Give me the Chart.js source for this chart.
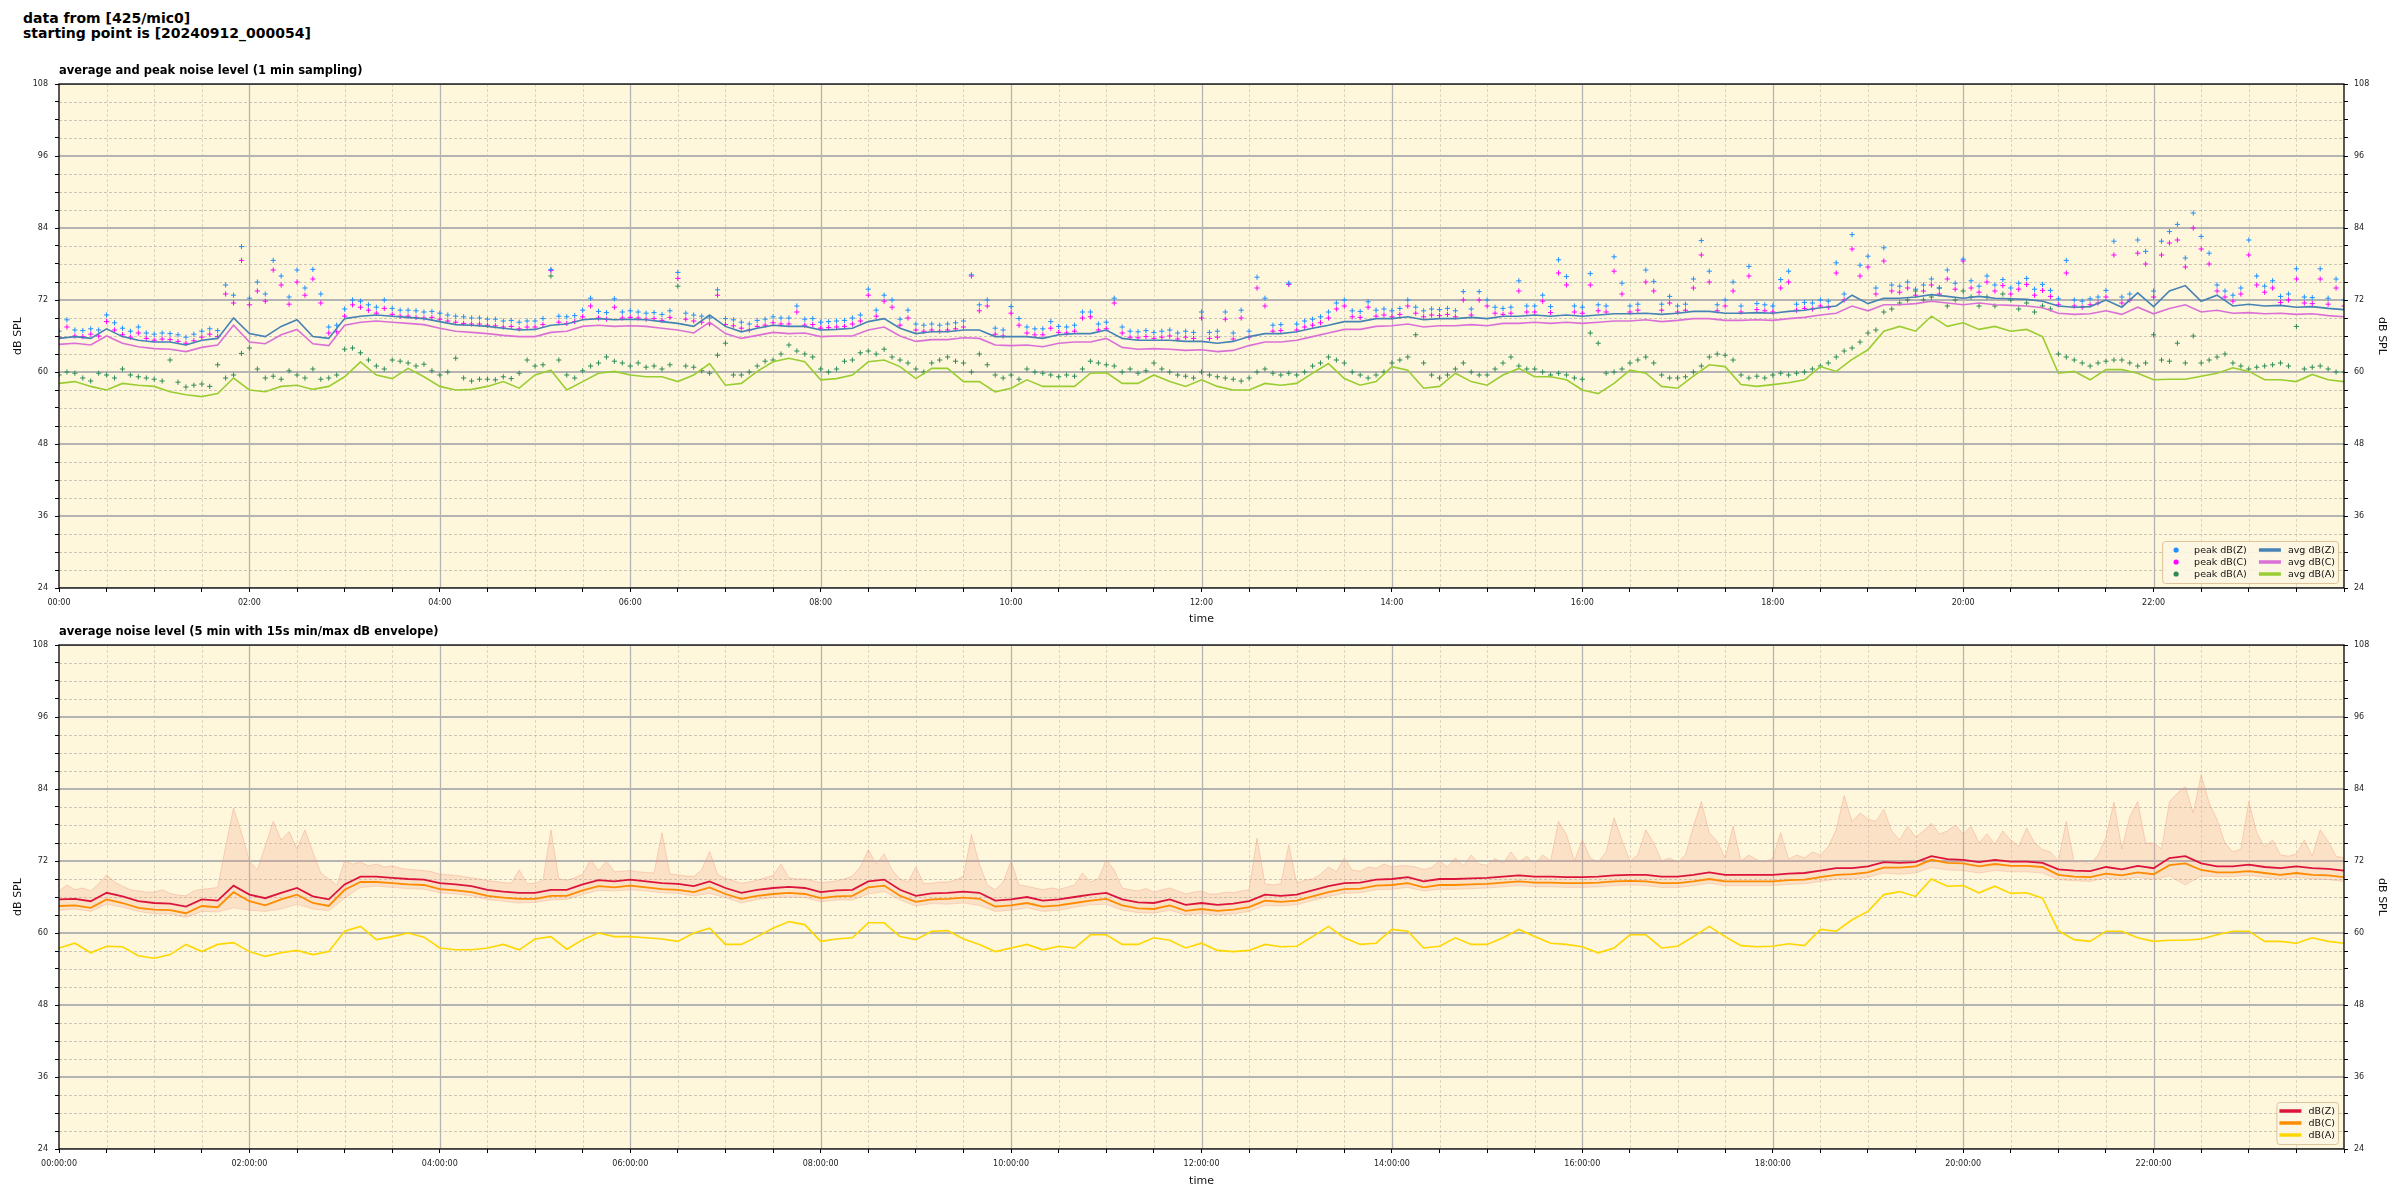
<!DOCTYPE html>
<html>
<head>
<meta charset="utf-8">
<script src="https://cdn.jsdelivr.net/npm/chart.js@4.4.1/dist/chart.umd.min.js"></script>
<style>
  html, body { margin: 0; padding: 0; background: #fff; }
  #page { position: relative; width: 2400px; height: 1200px; overflow: hidden; font-family: "DejaVu Sans", sans-serif; }
  canvas { position: absolute; left: 0; }
  .suptitle { position: absolute; left: 23px; top: 11px; font-size: 14px; line-height: 15.3px; font-weight: bold; color: #000; }
  .subtitle { position: absolute; left: 59px; font-size: 11.5px; line-height: 13px; font-weight: bold; color: #000; white-space: nowrap; }
</style>
</head>
<body>
<div id="page">
  <canvas id="peakChart" width="2400" height="570" style="top:60px"></canvas>
  <canvas id="envChart" width="2400" height="570" style="top:630px"></canvas>
  <div class="suptitle">data from [425/mic0]<br>starting point is [20240912_000054]</div>
  <div class="subtitle" style="top:64px">average and peak noise level (1 min sampling)</div>
  <div class="subtitle" style="top:625px">average noise level (5 min with 15s min/max dB envelope)</div>
</div>
<script>
// sampling steps (minutes after 00:00)
const AVG_STEP = 10;
const PEAK_STEP = 5;
const ENV_STEP = 5;

const hourLabelsTop = ['00:00', '02:00', '04:00', '06:00', '08:00', '10:00', '12:00', '14:00', '16:00', '18:00', '20:00', '22:00'];
const hourLabelsBottom = ['00:00:00', '02:00:00', '04:00:00', '06:00:00', '08:00:00', '10:00:00', '12:00:00', '14:00:00', '16:00:00', '18:00:00', '20:00:00', '22:00:00'];
const dbTicks = [24, 36, 48, 60, 72, 84, 96, 108];

// --- top panel: 1 min averages (read every 10 min) ---
const avgZ = [
  65.6, 65.9, 65.6, 67.2, 65.9, 65.3, 65.0, 65.0, 64.5, 65.3,
  65.6, 69.0, 66.4, 65.9, 67.6, 68.7, 65.9, 65.6, 68.9, 69.3,
  69.5, 69.3, 69.1, 68.9, 68.4, 67.9, 67.8, 67.6, 67.3, 67.0,
  67.1, 67.8, 68.0, 68.7, 68.9, 68.7, 68.8, 68.7, 68.4, 68.1,
  67.6, 69.5, 67.6, 66.7, 67.3, 67.8, 67.6, 67.6, 67.0, 67.1,
  67.3, 68.4, 68.9, 67.3, 66.4, 66.7, 66.7, 67.0, 67.0, 65.9,
  65.9, 65.9, 65.6, 66.2, 66.4, 66.4, 67.0, 65.6, 65.3, 65.3,
  65.3, 65.1, 65.1, 64.8, 65.1, 65.9, 66.4, 66.4, 66.7, 67.3,
  67.8, 68.4, 68.4, 68.9, 68.9, 69.2, 68.7, 68.9, 68.9, 69.1,
  68.9, 69.3, 69.3, 69.5, 69.3, 69.5, 69.3, 69.5, 69.7, 69.7,
  69.8, 69.6, 69.8, 70.1, 70.1, 69.8, 69.8, 69.9, 69.8, 70.1,
  70.3, 70.7, 71.0, 72.8, 71.4, 72.3, 72.3, 72.5, 72.9, 72.6,
  72.3, 72.6, 72.3, 72.2, 72.1, 71.8, 71.0, 70.8, 70.9, 72.0,
  70.8, 73.2, 70.9, 73.5, 74.4, 71.8, 72.8, 71.0, 71.3, 71.0,
  71.1, 70.8, 70.9, 70.6, 70.4
];
const avgC = [
  64.6, 64.8, 64.5, 66.0, 64.8, 64.2, 63.9, 63.8, 63.4, 64.1,
  64.5, 67.8, 65.0, 64.7, 66.2, 67.1, 64.7, 64.4, 67.8, 68.3,
  68.5, 68.3, 68.1, 67.9, 67.3, 66.8, 66.6, 66.4, 66.1, 65.9,
  65.9, 66.6, 66.8, 67.6, 67.8, 67.6, 67.7, 67.6, 67.3, 67.0,
  66.5, 68.3, 66.4, 65.6, 66.1, 66.6, 66.4, 66.5, 65.9, 66.0,
  66.0, 67.0, 67.5, 66.0, 65.1, 65.4, 65.4, 65.7, 65.6, 64.5,
  64.4, 64.5, 64.2, 64.8, 65.0, 65.0, 65.6, 64.1, 63.8, 63.9,
  63.8, 63.6, 63.7, 63.4, 63.6, 64.4, 65.0, 65.0, 65.3, 65.9,
  66.5, 67.1, 67.1, 67.6, 67.7, 68.0, 67.5, 67.7, 67.7, 67.9,
  67.7, 68.1, 68.1, 68.3, 68.1, 68.3, 68.1, 68.3, 68.5, 68.5,
  68.7, 68.4, 68.6, 68.9, 68.9, 68.6, 68.6, 68.7, 68.6, 68.9,
  69.1, 69.5, 69.8, 71.0, 70.2, 71.2, 71.2, 71.4, 71.8, 71.5,
  71.2, 71.5, 71.2, 71.1, 71.0, 70.7, 69.8, 69.6, 69.7, 70.2,
  69.6, 70.8, 69.7, 70.6, 71.2, 70.0, 70.3, 69.8, 69.9, 69.7,
  69.8, 69.6, 69.7, 69.4, 69.2
];
const avgA = [
  58.1, 58.4, 57.6, 57.0, 58.1, 57.8, 57.6, 56.7, 56.2, 55.9,
  56.4, 59.0, 57.0, 56.7, 57.6, 57.8, 57.1, 57.6, 59.2, 61.7,
  59.5, 58.9, 60.6, 59.2, 57.6, 57.0, 57.1, 57.6, 58.4, 57.3,
  59.5, 60.3, 57.0, 58.4, 59.8, 60.1, 59.5, 59.2, 59.2, 58.4,
  59.5, 61.4, 57.8, 58.1, 60.1, 61.7, 62.3, 61.7, 58.7, 58.9,
  59.5, 61.7, 62.0, 60.9, 58.9, 60.6, 60.6, 58.4, 58.4, 56.7,
  57.3, 58.7, 57.6, 57.6, 57.6, 59.8, 59.9, 58.1, 58.1, 59.5,
  58.4, 57.6, 58.7, 57.6, 57.0, 57.0, 58.1, 57.8, 58.1, 59.8,
  61.4, 58.9, 57.8, 58.4, 60.9, 60.3, 57.3, 57.6, 59.8, 58.4,
  57.8, 59.5, 60.6, 59.2, 59.2, 58.7, 57.0, 56.4, 58.1, 60.3,
  59.8, 57.6, 57.3, 59.3, 61.2, 60.9, 57.9, 57.6, 57.9, 58.2,
  58.7, 60.9, 60.1, 62.1, 63.7, 66.8, 67.6, 66.8, 69.3, 67.6,
  68.2, 67.1, 67.6, 66.8, 67.1, 65.9, 59.8, 60.1, 58.7, 60.4,
  60.4, 59.8, 58.7, 58.8, 58.8, 59.3, 59.8, 60.7, 60.1, 58.7,
  58.7, 58.4, 59.6, 58.7, 58.4
];

// --- top panel: peaks (read every 5 min, one row per hour) ---
const peakZ = [
  66.8, 68.7, 67.0, 66.9, 67.2, 67.0, 69.5, 68.2, 67.3, 66.8, 67.5, 66.5,
  66.3, 66.5, 66.4, 66.2, 65.8, 66.3, 66.8, 67.2, 66.9, 74.5, 72.8, 80.9,
  72.3, 75.0, 73.0, 78.6, 76.0, 72.5, 77.0, 74.0, 77.1, 73.0, 67.5, 67.8,
  70.5, 72.0, 71.8, 71.2, 70.8, 72.0, 70.6, 70.3, 70.3, 70.2, 70.0, 70.1,
  69.8, 69.5, 69.3, 69.2, 69.0, 69.0, 68.8, 68.8, 68.5, 68.6, 68.3, 68.5,
  68.5, 68.9, 77.1, 69.3, 69.2, 69.4, 70.3, 72.3, 70.1, 69.9, 72.2, 70.0,
  70.2, 70.0, 69.8, 69.9, 69.6, 70.2, 76.6, 69.8, 69.5, 69.3, 69.0, 73.7,
  68.9, 68.7, 68.3, 68.0, 68.6, 68.8, 69.2, 69.0, 69.0, 71.0, 68.8, 68.9,
  68.3, 68.4, 68.5, 68.6, 69.0, 69.5, 73.8, 70.3, 72.8, 72.0, 68.8, 70.3,
  68.0, 67.8, 68.0, 67.8, 68.0, 68.2, 68.5, 76.2, 71.2, 72.0, 67.3, 67.0,
  70.9, 68.9, 67.5, 67.2, 67.2, 68.4, 67.6, 67.5, 67.8, 70.0, 70.0, 68.0,
  68.3, 72.3, 67.5, 66.8, 66.7, 66.9, 66.6, 66.8, 67.0, 66.5, 66.8, 66.6,
  70.0, 66.6, 66.8, 70.0, 66.5, 70.3, 66.8, 75.8, 72.3, 67.8, 67.9, 74.8,
  68.0, 68.5, 68.8, 69.2, 70.0, 71.5, 72.0, 70.2, 70.1, 71.7, 70.3, 70.5,
  70.2, 70.6, 72.0, 70.8, 70.2, 70.5, 70.4, 70.6, 70.2, 73.4, 70.5, 73.4,
  72.0, 70.8, 70.6, 70.8, 75.2, 71.0, 71.0, 72.8, 70.9, 78.7, 75.9, 71.0,
  70.8, 76.4, 71.2, 71.0, 79.2, 74.8, 71.0, 71.3, 77.0, 75.1, 71.3, 72.6,
  71.0, 71.3, 75.5, 81.9, 76.8, 71.2, 72.0, 75.0, 71.0, 77.6, 71.4, 71.2,
  71.0, 75.4, 76.8, 71.3, 71.6, 71.5, 72.0, 71.8, 78.2, 73.0, 82.9, 77.8,
  79.3, 74.0, 80.7, 74.5, 74.3, 75.0, 73.8, 74.5, 75.5, 74.0, 77.0, 74.8,
  78.8, 75.2, 74.3, 76.0, 74.5, 75.4, 74.0, 74.8, 75.6, 73.8, 74.6, 73.6,
  72.2, 78.6, 72.0, 71.8, 72.2, 72.5, 73.6, 81.8, 72.5, 73.0, 82.0, 80.1,
  73.5, 81.8, 83.4, 84.6, 79.0, 86.5, 82.6, 79.8, 74.5, 73.5, 72.8, 74.0,
  82.0, 76.0, 74.3, 75.2, 72.6, 73.0, 77.2, 72.5, 72.4, 77.2, 72.3, 75.5,
  72.0
];
const peakC = [
  65.8, 67.5, 66.0, 65.9, 66.3, 66.0, 68.4, 67.0, 66.2, 65.8, 66.5, 65.6,
  65.3, 65.5, 65.4, 65.1, 64.8, 65.2, 65.8, 66.3, 65.9, 73.0, 71.5, 78.6,
  71.2, 73.5, 71.8, 77.0, 74.5, 71.3, 75.0, 72.8, 75.5, 71.5, 66.5, 66.7,
  69.3, 71.2, 70.8, 70.3, 69.8, 70.6, 69.6, 69.3, 69.3, 69.1, 69.0, 69.1,
  68.8, 68.5, 68.3, 68.1, 68.0, 68.0, 67.8, 67.7, 67.5, 67.6, 67.2, 67.5,
  67.5, 67.9, 76.9, 68.3, 68.1, 68.4, 69.2, 71.0, 69.0, 68.8, 70.8, 69.0,
  69.1, 69.0, 68.8, 68.9, 68.6, 69.1, 75.6, 68.8, 68.5, 68.3, 68.0, 72.8,
  67.9, 67.7, 67.3, 67.0, 67.6, 67.8, 68.2, 68.0, 68.0, 70.0, 67.8, 67.9,
  67.3, 67.4, 67.5, 67.6, 68.0, 68.5, 72.8, 69.3, 71.8, 70.8, 67.8, 69.0,
  67.0, 66.8, 67.0, 66.8, 67.0, 67.2, 67.5, 76.0, 70.2, 71.0, 66.3, 66.0,
  69.8, 67.8, 66.5, 66.2, 66.2, 67.3, 66.6, 66.5, 66.8, 69.0, 69.2, 67.0,
  67.2, 71.5, 66.5, 65.8, 65.7, 65.9, 65.6, 65.8, 66.0, 65.5, 65.8, 65.6,
  69.0, 65.6, 65.8, 68.8, 65.5, 69.0, 65.8, 74.0, 71.0, 66.8, 66.9, 74.6,
  67.0, 67.5, 67.8, 68.2, 69.0, 70.5, 71.0, 69.2, 69.1, 70.8, 69.3, 69.5,
  69.2, 69.6, 71.0, 69.8, 69.2, 69.5, 69.4, 69.6, 69.2, 72.0, 69.5, 72.0,
  71.0, 69.8, 69.6, 69.8, 73.5, 70.0, 70.0, 71.8, 69.9, 76.5, 74.5, 70.0,
  69.8, 74.5, 70.2, 70.0, 76.8, 73.0, 70.0, 70.3, 75.0, 73.5, 70.3, 71.5,
  70.0, 70.3, 74.0, 79.5, 75.0, 70.2, 71.0, 73.5, 70.0, 76.0, 70.4, 70.2,
  70.0, 74.0, 75.0, 70.3, 70.6, 70.5, 71.0, 70.8, 76.5, 72.0, 80.5, 76.0,
  77.5, 73.0, 78.5, 73.5, 73.3, 74.0, 72.8, 73.5, 74.5, 73.0, 75.5, 73.8,
  78.5, 74.0, 73.3, 75.0, 73.5, 74.4, 73.0, 73.8, 74.6, 72.8, 73.6, 72.6,
  71.2, 76.5, 71.0, 70.8, 71.2, 71.5, 72.5, 79.5, 71.5, 72.0, 79.8, 78.0,
  72.5, 79.5, 81.5, 82.0, 77.5, 84.0, 80.5, 78.0, 73.5, 72.5, 71.8, 73.0,
  79.5, 74.5, 73.3, 74.0, 71.6, 72.0, 75.5, 71.5, 71.4, 75.5, 71.3, 74.0,
  71.0
];
const peakA = [
  59.5, 60.0, 59.8, 59.0, 58.5, 59.8, 59.5, 59.0, 60.5, 59.5, 59.2, 59.0,
  58.8, 58.5, 62.0, 58.3, 57.5, 57.8, 58.0, 57.6, 61.2, 59.0, 59.5, 63.1,
  64.0, 60.5, 59.0, 59.3, 58.8, 60.2, 59.5, 59.0, 60.5, 58.8, 59.0, 59.5,
  63.8, 64.0, 63.2, 62.0, 61.0, 60.5, 62.0, 61.8, 61.5, 61.0, 61.3, 60.2,
  59.5, 60.0, 62.3, 59.0, 58.5, 58.8, 58.8, 58.7, 59.2, 58.9, 59.8, 62.0,
  61.0, 61.2, 76.0, 62.0, 59.5, 59.0, 60.2, 61.0, 61.5, 62.5, 61.8, 61.5,
  61.0, 61.5, 60.8, 61.0, 60.5, 61.2, 74.3, 61.0, 60.8, 60.2, 59.8, 62.8,
  64.8, 59.5, 59.5, 60.0, 61.0, 61.8, 62.0, 63.0, 64.5, 63.5, 63.0, 62.5,
  60.5, 60.0, 60.5, 61.8, 62.0, 63.2, 63.5, 63.0, 63.8, 62.5, 62.0, 61.5,
  60.5, 60.0, 61.5, 62.0, 62.5, 61.8, 61.5, 60.0, 63.0, 61.2, 59.5, 59.0,
  59.5, 58.8, 60.5, 60.0, 59.8, 59.5, 59.2, 59.5, 59.3, 60.5, 61.8, 61.5,
  61.2, 61.0, 60.0, 60.5, 59.8, 60.2, 61.5, 60.5, 60.0, 59.5, 59.3, 59.0,
  60.0, 59.5, 59.2, 59.0, 58.8, 58.5, 59.0, 60.0, 60.5, 59.8, 59.5, 59.8,
  59.5, 60.0, 61.0, 61.5, 62.5, 62.0, 61.5, 60.0, 59.5, 59.0, 59.5, 60.0,
  61.5, 62.0, 62.5, 66.2, 61.5, 59.5, 59.0, 59.5, 60.5, 61.5, 60.0, 59.5,
  59.5, 60.5, 61.5, 62.5, 61.0, 60.5, 60.5, 60.0, 59.5, 59.8, 59.5, 59.0,
  58.8, 66.5, 64.8, 59.8, 60.0, 60.5, 61.5, 62.0, 62.5, 61.5, 59.5, 59.0,
  59.0, 59.2, 60.0, 61.0, 62.5, 63.0, 62.8, 62.0, 59.5, 59.0, 59.3, 59.0,
  59.5, 59.8, 59.5, 59.8, 60.0, 60.5, 61.0, 61.5, 62.5, 63.5, 64.0, 65.0,
  66.5, 67.0, 70.0, 70.5, 71.5, 72.0, 73.5, 72.0, 72.5, 74.0, 71.0, 72.0,
  73.5, 72.5, 71.0, 72.5, 71.0, 73.0, 72.0, 70.5, 71.5, 70.0, 71.0, 70.5,
  63.0, 62.5, 62.0, 61.5, 61.0, 61.5, 61.8, 62.0, 62.0, 61.5, 61.0, 61.5,
  66.2, 62.0, 61.8, 64.8, 61.5, 66.0, 61.5, 62.0, 62.5, 63.0, 61.5, 61.0,
  60.5, 60.8, 61.0, 61.2, 61.5, 61.0, 67.6, 60.5, 60.8, 61.0, 60.5, 60.0,
  60.0
];

// --- bottom panel: 5 min averages (read every 10 min) ---
const fiveZ = [
  65.6, 65.7, 65.3, 66.7, 66.1, 65.3, 65.0, 64.9, 64.4, 65.6,
  65.4, 67.9, 66.4, 65.8, 66.7, 67.5, 66.1, 65.6, 68.1, 69.4,
  69.4, 69.2, 69.0, 68.9, 68.3, 68.1, 67.8, 67.2, 66.9, 66.7,
  66.7, 67.2, 67.2, 68.1, 68.8, 68.6, 68.9, 68.6, 68.3, 68.2,
  67.8, 68.6, 67.5, 66.7, 67.2, 67.5, 67.7, 67.5, 66.8, 67.1,
  67.2, 68.6, 68.9, 67.2, 66.2, 66.6, 66.7, 66.9, 66.7, 65.4,
  65.6, 66.0, 65.4, 65.6, 66.0, 66.4, 66.7, 65.6, 65.1, 65.0,
  65.6, 64.7, 65.0, 64.7, 64.9, 65.3, 66.4, 66.2, 66.4, 67.1,
  67.8, 68.3, 68.4, 68.9, 69.0, 69.3, 68.6, 69.0, 69.0, 69.1,
  69.2, 69.4, 69.6, 69.4, 69.4, 69.3, 69.3, 69.4, 69.6, 69.7,
  69.7, 69.4, 69.4, 69.7, 70.1, 69.7, 69.7, 69.7, 69.7, 69.9,
  70.0, 70.4, 70.8, 70.8, 71.1, 71.8, 71.7, 71.8, 72.8, 72.3,
  72.2, 71.8, 72.2, 71.9, 71.9, 71.7, 70.6, 70.4, 70.3, 71.0,
  70.6, 71.2, 70.8, 72.5, 72.8, 71.6, 71.1, 71.1, 71.4, 71.0,
  70.8, 71.1, 70.8, 70.7, 70.4
];
const fiveC = [
  64.5, 64.6, 64.2, 65.6, 65.0, 64.2, 63.9, 63.8, 63.3, 64.5,
  64.3, 66.8, 65.3, 64.6, 65.6, 66.4, 65.0, 64.5, 67.2, 68.5,
  68.5, 68.3, 68.1, 68.0, 67.3, 67.1, 66.8, 66.2, 65.9, 65.7,
  65.7, 66.2, 66.2, 67.1, 67.8, 67.6, 67.9, 67.6, 67.3, 67.2,
  66.8, 67.6, 66.5, 65.7, 66.2, 66.5, 66.7, 66.5, 65.8, 66.1,
  66.2, 67.6, 67.9, 66.2, 65.2, 65.6, 65.7, 65.9, 65.7, 64.4,
  64.6, 65.0, 64.4, 64.6, 65.0, 65.4, 65.7, 64.6, 64.1, 64.0,
  64.6, 63.7, 64.0, 63.7, 63.9, 64.3, 65.4, 65.2, 65.4, 66.1,
  66.8, 67.3, 67.4, 67.9, 68.0, 68.3, 67.6, 68.0, 68.0, 68.1,
  68.2, 68.4, 68.6, 68.4, 68.4, 68.3, 68.3, 68.4, 68.6, 68.7,
  68.6, 68.3, 68.3, 68.6, 69.0, 68.6, 68.6, 68.6, 68.6, 68.8,
  68.9, 69.3, 69.7, 69.8, 70.1, 70.9, 70.9, 71.1, 72.2, 71.7,
  71.6, 71.1, 71.5, 71.2, 71.2, 71.0, 69.7, 69.4, 69.3, 69.9,
  69.6, 70.1, 69.8, 71.3, 71.6, 70.5, 70.1, 70.1, 70.3, 70.0,
  69.7, 70.0, 69.7, 69.6, 69.3
];
const fiveA = [
  57.5, 58.3, 56.7, 57.8, 57.7, 56.2, 55.8, 56.4, 58.1, 56.9,
  58.1, 58.4, 56.9, 56.1, 56.7, 57.1, 56.4, 56.9, 60.3, 61.1,
  58.9, 59.4, 60.0, 59.3, 57.5, 57.2, 57.2, 57.5, 58.1, 57.2,
  59.0, 59.4, 57.3, 58.9, 60.0, 59.4, 59.4, 59.2, 59.0, 58.6,
  60.0, 60.8, 58.1, 58.1, 59.4, 60.8, 61.9, 61.4, 58.6, 59.0,
  59.2, 61.7, 61.7, 59.4, 58.9, 60.3, 60.4, 59.0, 58.1, 56.9,
  57.5, 58.1, 57.2, 57.8, 57.5, 59.7, 59.7, 58.1, 58.1, 59.2,
  58.8, 57.5, 58.3, 57.1, 56.9, 57.1, 58.1, 57.7, 57.8, 59.4,
  61.1, 59.2, 58.1, 58.3, 60.6, 60.3, 57.5, 57.8, 59.2, 58.1,
  58.1, 59.2, 60.6, 59.4, 58.3, 58.1, 57.7, 56.7, 57.5, 59.7,
  59.7, 57.5, 57.8, 59.4, 61.1, 59.4, 57.9, 57.7, 57.8, 58.2,
  57.9, 60.6, 60.3, 62.2, 63.6, 66.4, 66.9, 66.1, 69.0, 67.8,
  67.9, 66.7, 67.8, 66.6, 66.7, 65.8, 60.4, 58.9, 58.6, 60.3,
  60.3, 59.2, 58.6, 58.8, 58.8, 59.0, 59.7, 60.3, 60.3, 58.6,
  58.6, 58.3, 59.2, 58.6, 58.3
];

// --- bottom panel: 15 s min/max envelope ---
const envMax = [
  67.0, 68.0, 67.2, 67.5, 67.0, 68.2, 69.7, 68.5, 67.8, 67.2, 67.0, 66.8,
  66.8, 67.2, 66.6, 66.3, 66.2, 67.0, 67.3, 67.4, 67.6, 74.4, 80.8, 76.7,
  72.0, 70.5, 74.5, 78.6, 75.5, 76.9, 74.0, 77.2, 73.5, 70.0, 69.0, 68.0,
  72.0, 71.5, 71.8, 71.2, 71.5, 71.0, 71.2, 70.8, 70.6, 70.5, 70.4, 70.2,
  69.8, 69.7, 69.6, 69.4, 69.2, 69.0, 68.7, 68.6, 68.4, 68.3, 70.5, 68.2,
  68.3, 68.8, 77.2, 69.0, 68.8, 69.2, 69.8, 72.2, 70.4, 72.0, 70.2, 70.3,
  70.4, 70.2, 70.1, 70.0, 76.7, 69.8, 69.7, 69.5, 69.4, 70.5, 73.6, 69.8,
  69.1, 68.7, 68.3, 68.5, 68.8, 69.2, 69.6, 71.5, 69.2, 69.0, 69.0, 68.7,
  68.4, 68.5, 68.7, 69.0, 69.5, 71.0, 73.9, 71.5, 73.2, 70.5, 69.0, 68.5,
  71.0, 68.2, 68.3, 68.5, 68.5, 68.8, 69.5, 76.4, 71.5, 68.0, 67.2, 68.5,
  72.0, 68.0, 67.8, 67.5, 67.2, 67.5, 67.3, 67.6, 68.0, 70.0, 68.5, 69.0,
  72.2, 70.5, 67.5, 67.2, 67.0, 67.4, 66.8, 67.2, 67.5, 67.0, 66.5, 66.8,
  67.0, 66.5, 66.5, 66.8, 66.7, 67.0, 67.2, 75.8, 68.2, 68.0, 68.2, 74.7,
  68.3, 68.8, 69.0, 69.8, 71.0, 70.2, 72.5, 70.5, 70.3, 71.0, 70.8, 71.5,
  71.0, 71.2, 71.2, 71.0, 70.6, 70.9, 72.0, 71.0, 72.5, 71.2, 73.0, 71.5,
  71.3, 72.4, 71.6, 73.5, 71.8, 72.8, 71.5, 73.0, 72.0, 78.6, 76.4, 72.0,
  75.5, 72.5, 71.8, 73.5, 79.2, 75.5, 72.0, 73.0, 77.2, 75.0, 72.0, 72.5,
  71.8, 73.0, 77.8, 81.9, 76.7, 75.3, 72.5, 77.8, 72.0, 73.0, 72.2, 71.8,
  72.5, 76.7, 72.3, 73.0, 72.5, 73.5, 73.0, 74.4, 77.2, 82.9, 78.6, 80.0,
  79.0, 78.6, 80.6, 77.0, 75.5, 77.8, 76.0, 77.0, 78.3, 76.5, 77.0, 78.0,
  76.5, 77.8, 75.0, 76.5, 74.8, 77.0, 75.5, 74.4, 77.5, 75.0, 73.9, 73.5,
  72.0, 78.6, 71.8, 72.0, 71.5, 73.0, 76.0, 81.8, 74.0, 79.4, 81.9, 75.0,
  75.0, 74.0, 81.9, 83.3, 84.4, 80.0, 86.4, 81.7, 78.9, 75.0, 73.5, 74.0,
  81.9, 76.7, 74.4, 75.5, 73.0, 72.8, 73.2, 75.5, 72.8, 77.2, 75.3, 72.8,
  72.5
];
// lower edge, read every 10 min
const envMin = [
  63.8, 64.0, 63.6, 64.8, 64.3, 63.6, 63.2, 63.2, 62.6, 63.6,
  63.5, 64.2, 63.8, 63.6, 64.0, 64.8, 64.0, 63.7, 65.8, 67.6,
  67.8, 67.6, 67.4, 67.3, 66.7, 66.5, 66.2, 65.6, 65.3, 65.0,
  65.1, 65.5, 65.6, 66.4, 67.1, 67.0, 67.2, 67.0, 66.7, 66.6,
  66.2, 66.6, 65.9, 65.0, 65.6, 65.9, 66.0, 65.9, 65.2, 65.5,
  65.5, 66.5, 66.9, 65.5, 64.5, 64.9, 64.8, 65.0, 64.6, 63.6,
  63.8, 64.2, 63.6, 63.8, 64.3, 64.7, 64.8, 63.8, 63.4, 63.3,
  63.8, 63.0, 63.3, 63.0, 63.2, 63.6, 64.6, 64.5, 64.7, 65.4,
  66.1, 66.6, 66.7, 67.2, 67.3, 67.6, 67.0, 67.3, 67.3, 67.4,
  67.5, 67.7, 67.9, 67.7, 67.7, 67.6, 67.6, 67.7, 67.9, 68.0,
  67.9, 67.6, 67.6, 67.9, 68.3, 67.9, 67.9, 67.9, 67.9, 68.1,
  68.2, 68.6, 69.0, 69.0, 69.3, 70.0, 69.8, 70.0, 70.9, 70.5,
  70.4, 70.0, 70.4, 70.2, 70.2, 70.0, 68.9, 68.7, 68.6, 69.2,
  68.9, 69.3, 68.9, 69.5, 68.0, 69.5, 69.4, 69.4, 69.6, 69.3,
  69.0, 69.3, 69.0, 68.9, 68.6
];

const colors = {
  face: '#fef7dc',
  peakZ: '#1e90ff',
  peakC: '#ff00ff',
  peakA: '#2e8b57',
  avgZ: '#4682b4',
  avgC: '#da70d6',
  avgA: '#9acd32',
  dbZ: '#dc143c',
  dbC: '#ff8c00',
  dbA: '#ffd700',
  envFill: 'rgba(240, 150, 125, 0.22)',
  envLine: 'rgba(240, 150, 125, 0.38)',
  majorGrid: '#b4b4b4',
  minorGridH: 'rgba(140, 140, 140, 0.5)',
  minorGridV: 'rgba(170, 165, 150, 0.45)'
};
const FONT = '"DejaVu Sans", sans-serif';
Chart.defaults.font.family = FONT;

const toPoints = (vals, step) => vals.map((v, i) => ({ x: i * step, y: v }));

// background, grid and frame drawn behind / around the datasets
const frameGrid = {
  id: 'frameGrid',
  beforeDraw(chart) {
    const { ctx, chartArea: a } = chart;
    ctx.save();
    ctx.fillStyle = colors.face;
    ctx.fillRect(a.left, a.top, a.width, a.height);
    ctx.restore();
  },
  beforeDatasetsDraw(chart) {
    const { ctx, chartArea: a, scales: { x, y } } = chart;
    ctx.save();
    ctx.beginPath();
    ctx.rect(a.left, a.top, a.width, a.height);
    ctx.clip();
    // minor grid
    ctx.lineWidth = 0.9;
    ctx.setLineDash([3, 2]);
    ctx.strokeStyle = colors.minorGridV;
    for (let t = 30; t < 1440; t += 30) {
      if (t % 120 === 0) continue;
      const px = Math.round(x.getPixelForValue(t)) + 0.5;
      ctx.beginPath(); ctx.moveTo(px, a.top); ctx.lineTo(px, a.bottom); ctx.stroke();
    }
    ctx.strokeStyle = colors.minorGridH;
    for (let v = 27; v < 108; v += 3) {
      if (dbTicks.includes(v)) continue;
      const py = Math.round(y.getPixelForValue(v)) + 0.5;
      ctx.beginPath(); ctx.moveTo(a.left, py); ctx.lineTo(a.right, py); ctx.stroke();
    }
    // major grid
    ctx.setLineDash([]);
    ctx.strokeStyle = colors.majorGrid;
    ctx.lineWidth = 1.3;
    hourLabelsTop.forEach((_, i) => {
      if (i === 0) return;
      const px = Math.round(x.getPixelForValue(i * 120)) + 0.5;
      ctx.beginPath(); ctx.moveTo(px, a.top); ctx.lineTo(px, a.bottom); ctx.stroke();
    });
    ctx.lineWidth = 2;
    dbTicks.forEach(v => {
      const py = Math.round(y.getPixelForValue(v));
      ctx.beginPath(); ctx.moveTo(a.left, py); ctx.lineTo(a.right, py); ctx.stroke();
    });
    ctx.restore();
  },
  afterDatasetsDraw(chart) {
    const { ctx, chartArea: a } = chart;
    ctx.save();
    ctx.strokeStyle = '#000';
    ctx.lineWidth = 1.3;
    ctx.strokeRect(a.left, a.top, a.width, a.height);
    ctx.restore();
  }
};

// legend box placed inside the lower right corner of the plot
const makeLegend = (columns) => ({
  id: 'insideLegend',
  afterDraw(chart) {
    const { ctx, chartArea: a } = chart;
    const handleW = 22, gap = 7, padX = 3, padY = 3, colGap = 12, rowH = 12;
    ctx.save();
    ctx.font = `9.5px ${FONT}`;
    const colW = columns.map(c => handleW + gap + Math.max(...c.map(it => ctx.measureText(it.label).width)));
    const w = padX * 2 + colW.reduce((s, v) => s + v, 0) + colGap * (columns.length - 1);
    const h = padY * 2 + rowH * Math.max(...columns.map(c => c.length));
    const x0 = a.right - 6 - w;
    const y0 = a.bottom - 5 - h;
    ctx.beginPath();
    ctx.roundRect(x0 + 0.5, y0 + 0.5, w, h, 3);
    ctx.fillStyle = 'rgba(253, 246, 227, 0.85)';
    ctx.fill();
    ctx.strokeStyle = '#dcc59c';
    ctx.lineWidth = 1;
    ctx.stroke();
    let cx = x0 + padX;
    columns.forEach((col, ci) => {
      col.forEach((it, ri) => {
        const cy = y0 + padY + rowH * ri + rowH / 2;
        if (it.kind === 'dot') {
          ctx.fillStyle = it.color;
          ctx.beginPath();
          ctx.arc(cx + handleW / 2, cy, 2.6, 0, Math.PI * 2);
          ctx.fill();
        } else {
          ctx.strokeStyle = it.color;
          ctx.lineWidth = 3.5;
          ctx.beginPath(); ctx.moveTo(cx, cy); ctx.lineTo(cx + handleW, cy); ctx.stroke();
        }
        ctx.fillStyle = '#111';
        ctx.textBaseline = 'middle';
        ctx.fillText(it.label, cx + handleW + gap, cy + 0.5);
      });
      cx += colW[ci] + colGap;
    });
    ctx.restore();
  }
});

const makeScales = (hourLabels, xAxisH, timeTitlePad) => {
  const yAxis = (pos, width, titlePad) => ({
    position: pos,
    min: 24,
    max: 108,
    afterFit: s => { s.width = width; },
    ticks: {
      stepSize: 3,
      autoSkip: false,
      padding: pos === 'left' ? 7 : 6,
      color: '#222',
      font: { size: 8 },
      callback: v => dbTicks.includes(v) ? String(v) : ''
    },
    grid: { drawOnChartArea: false, tickLength: 4, tickColor: '#000', tickWidth: 1 },
    border: { display: false },
    title: { display: true, text: 'dB SPL', color: '#111', font: { size: 11 }, padding: { top: titlePad, bottom: 0 } }
  });
  return {
    x: {
      type: 'linear',
      min: 0,
      max: 1440,
      afterFit: s => { s.height = xAxisH; },
      ticks: {
        stepSize: 30,
        autoSkip: false,
        maxRotation: 0,
        padding: 6,
        color: '#222',
        font: { size: 8 },
        callback: v => (v % 120 === 0 && v < 1440) ? hourLabels[v / 120] : ''
      },
      grid: { drawOnChartArea: false, tickLength: 4, tickColor: '#000', tickWidth: 1 },
      border: { display: false },
      title: { display: true, text: 'time', color: '#111', font: { size: 11 }, padding: { top: 0, bottom: timeTitlePad } }
    },
    y: yAxis('left', 59, 12),
    y2: yAxis('right', 56, 12)
  };
};

const baseOptions = (scales, padTop) => ({
  responsive: false,
  animation: false,
  devicePixelRatio: 1,
  layout: { padding: { top: padTop, left: 0, right: 0, bottom: 0 } },
  plugins: { legend: { display: false }, tooltip: { enabled: false } },
  elements: { point: { radius: 0 }, line: { tension: 0 } },
  scales
});

const peakSet = (label, vals, color) => ({
  label, data: toPoints(vals, PEAK_STEP), showLine: false, order: 2,
  pointStyle: 'cross', pointRadius: 2.6, pointBorderWidth: 1,
  pointBorderColor: color, pointBackgroundColor: color, borderColor: color
});
const lineSet = (label, vals, step, color, width, order) => ({
  label, data: toPoints(vals, step), borderColor: color, borderWidth: width,
  pointRadius: 0, fill: false, order
});

new Chart(document.getElementById('peakChart'), {
  type: 'line',
  data: {
    datasets: [
      peakSet('peak dB(Z)', peakZ, colors.peakZ),
      peakSet('peak dB(C)', peakC, colors.peakC),
      peakSet('peak dB(A)', peakA, colors.peakA),
      lineSet('avg dB(Z)', avgZ, AVG_STEP, colors.avgZ, 1.6, 0),
      lineSet('avg dB(C)', avgC, AVG_STEP, colors.avgC, 1.6, 1),
      lineSet('avg dB(A)', avgA, AVG_STEP, colors.avgA, 1.6, 1)
    ]
  },
  options: baseOptions(makeScales(hourLabelsTop, 42, 4), 24),
  plugins: [frameGrid, makeLegend([
    [
      { label: 'peak dB(Z)', kind: 'dot', color: colors.peakZ },
      { label: 'peak dB(C)', kind: 'dot', color: colors.peakC },
      { label: 'peak dB(A)', kind: 'dot', color: colors.peakA }
    ],
    [
      { label: 'avg dB(Z)', kind: 'line', color: colors.avgZ },
      { label: 'avg dB(C)', kind: 'line', color: colors.avgC },
      { label: 'avg dB(A)', kind: 'line', color: colors.avgA }
    ]
  ])]
});

new Chart(document.getElementById('envChart'), {
  type: 'line',
  data: {
    datasets: [
      {
        label: 'max', data: toPoints(envMax, ENV_STEP), borderColor: colors.envLine, borderWidth: 1,
        backgroundColor: colors.envFill, fill: '+1', pointRadius: 0, order: 5
      },
      {
        label: 'min', data: toPoints(envMin, AVG_STEP), borderColor: colors.envLine, borderWidth: 0.8,
        fill: false, pointRadius: 0, order: 5
      },
      lineSet('dB(Z)', fiveZ, AVG_STEP, colors.dbZ, 1.8, 0),
      lineSet('dB(C)', fiveC, AVG_STEP, colors.dbC, 1.8, 1),
      lineSet('dB(A)', fiveA, AVG_STEP, colors.dbA, 1.6, 1)
    ]
  },
  options: baseOptions(makeScales(hourLabelsBottom, 51, 12), 15),
  plugins: [frameGrid, makeLegend([
    [
      { label: 'dB(Z)', kind: 'line', color: colors.dbZ },
      { label: 'dB(C)', kind: 'line', color: colors.dbC },
      { label: 'dB(A)', kind: 'line', color: colors.dbA }
    ]
  ])]
});
</script>
</body>
</html>
